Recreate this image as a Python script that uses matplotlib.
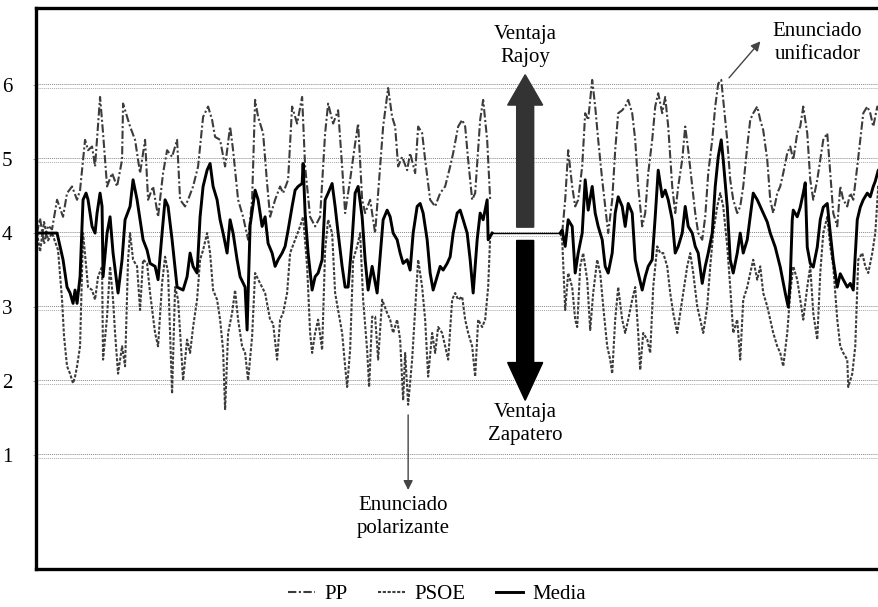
#Debate - valoracion continua PP / PSOE
import numpy as np
import matplotlib.pyplot as plt
from matplotlib.patches import FancyArrow

nan = np.nan

#Time (seconds from the start of the clip) and ratings
t_pp = [1, 4, 8, 12, 16, 21, 27, 31, 36, 41, 44, 49, 52, 56, 59, 64, 67, 71, 76, 81,
        86, 87, 91, 94, 99, 104, 109, 112, 117, 122, 127, 131, 136, 141, 144, 149, 152, 157, 162, 167,
        172, 176, 179, 184, 189, 194, 197, 202, 207, 212, 216, 219, 222, 227, 231, 234, 239, 244, 247, 252,
        256, 261, 266, 269, 274, 279, 284, 289, 292, 297, 302, 306, 309, 314, 319, 322, 326, 329, 334, 339,
        344, 347, 352, 356, 359, 362, 366, 371, 374, 379, 382, 386, 389, 394, 399, 404, 409, 414, 417, 422,
        426, 429, 432, 436, 439, 444, 447, 451, 454, 490,
        526, 529, 532, 536, 539, 542, 546, 549, 552, 556, 559, 562, 566, 569, 572, 576, 579, 582, 586, 589,
        592, 596, 599, 602, 606, 609, 612, 616, 619, 622, 626, 629, 632, 636, 639, 642, 646, 649, 652, 656,
        659, 662, 666, 669, 672, 676, 679, 682, 685, 687, 691, 694, 697, 701, 704, 707, 711, 714, 717, 721,
        724, 727, 731, 734, 737, 741, 744, 747, 751, 754, 757, 761, 764, 767, 771, 774, 777, 781, 784, 787,
        791, 794, 797, 801, 804, 807, 811, 814, 817, 821, 824, 827, 831, 834, 837, 841, 844]
pp = [4.00, 4.20, 3.85, 4.10, 4.05, 4.45, 4.22, 4.54, 4.63, 4.45, 4.58, 5.26, 5.12, 5.17, 4.90, 5.84, 5.35, 4.63, 4.81, 4.63,
      4.99, 5.75, 5.57, 5.44, 5.26, 4.81, 5.26, 4.45, 4.63, 4.22, 4.81, 5.12, 5.03, 5.26, 4.45, 4.36, 4.45, 4.63, 4.90, 5.57,
      5.71, 5.53, 5.30, 5.26, 4.90, 5.44, 5.12, 4.45, 4.22, 3.91, 4.45, 5.80, 5.57, 5.35, 4.67, 4.22, 4.45, 4.63, 4.54, 4.72,
      5.71, 5.48, 5.84, 4.90, 4.22, 4.09, 4.22, 5.35, 5.75, 5.48, 5.66, 4.90, 4.27, 4.72, 5.21, 5.48, 4.45, 4.27, 4.45, 4.00,
      4.90, 5.44, 5.96, 5.57, 5.44, 4.90, 5.03, 4.85, 5.08, 4.81, 5.44, 5.35, 4.99, 4.45, 4.36, 4.54, 4.63, 4.90, 5.08, 5.44,
      5.53, 5.44, 4.99, 4.45, 4.54, 5.53, 5.80, 5.26, 4.45, nan,
      4.00, 4.45, 5.12, 4.63, 4.36, 4.45, 4.90, 5.62, 5.53, 6.07, 5.71, 5.26, 4.72, 4.36, 4.00, 4.45, 5.12, 5.62, 5.66, 5.71,
      5.80, 5.62, 5.26, 4.63, 4.09, 4.27, 4.81, 5.26, 5.71, 5.89, 5.62, 5.84, 5.44, 4.63, 4.27, 4.63, 4.99, 5.44, 5.12, 4.63,
      4.27, 4.00, 3.91, 4.22, 4.81, 5.26, 5.71, 6.02, 6.07, 5.80, 5.26, 4.72, 4.45, 4.27, 4.36, 4.63, 5.17, 5.53, 5.62, 5.71,
      5.53, 5.39, 4.99, 4.45, 4.27, 4.54, 4.63, 4.81, 5.08, 5.17, 4.99, 5.35, 5.44, 5.71, 5.35, 4.72, 4.45, 4.72, 4.99, 5.26,
      5.35, 4.81, 4.27, 4.09, 4.63, 4.45, 4.36, 4.54, 4.45, 4.90, 5.26, 5.62, 5.71, 5.62, 5.44, 5.71, 5.62]

t_psoe = [1, 4, 8, 12, 16, 22, 26, 28, 31, 34, 37, 39, 41, 44, 47, 52, 56, 59, 62, 66,
          67, 71, 74, 77, 79, 82, 86, 89, 92, 94, 97, 101, 104, 107, 111, 114, 119, 122, 126, 129,
          132, 136, 139, 142, 147, 151, 154, 157, 161, 164, 167, 171, 174, 177, 181, 184, 187, 189, 192, 196,
          199, 202, 206, 209, 212, 216, 219, 224, 229, 234, 237, 241, 244, 247, 251, 254, 259, 264, 267, 271,
          274, 276, 279, 282, 286, 289, 292, 296, 299, 302, 306, 309, 311, 314, 317, 321, 324, 327, 331, 333,
          336, 339, 342, 346, 351, 354, 357, 361, 364, 367, 369, 372, 376, 379, 382, 386, 389, 392, 396, 399,
          402, 406, 409, 412, 416, 419, 422, 426, 429, 432, 436, 439, 442, 446, 449, 452, 454, 490,
          524, 526, 529, 532, 536, 539, 541, 544, 547, 551, 554, 557, 561, 564, 567, 571, 574, 576, 579, 582,
          586, 589, 592, 596, 599, 602, 604, 607, 611, 614, 617, 621, 624, 627, 631, 634, 637, 641, 644, 647,
          651, 654, 657, 661, 664, 667, 671, 674, 677, 681, 684, 687, 691, 694, 697, 701, 704, 707, 711, 714,
          717, 721, 724, 727, 731, 734, 737, 741, 744, 747, 751, 754, 757, 761, 764, 767, 771, 774, 777, 781,
          784, 787, 791, 794, 797, 801, 804, 807, 811, 812, 816, 819, 822, 826, 829, 832, 836, 839, 842, 845]
psoe = [4.00, 3.75, 4.15, 3.90, 4.00, 3.77, 3.10, 2.60, 2.20, 2.10, 1.97, 2.06, 2.20, 2.47, 4.00, 3.27, 3.23, 3.10, 3.41, 3.55,
        2.29, 2.87, 3.55, 3.10, 2.65, 2.10, 2.47, 2.20, 3.64, 4.00, 3.64, 3.55, 2.96, 3.64, 3.59, 3.19, 2.65, 2.47, 3.32, 3.68,
        3.46, 1.83, 3.27, 3.10, 2.01, 2.56, 2.38, 2.73, 3.10, 3.64, 3.77, 4.00, 3.73, 3.23, 3.10, 2.83, 2.42, 1.61, 2.65, 2.92,
        3.23, 2.83, 2.47, 2.38, 2.01, 2.60, 3.46, 3.32, 3.19, 2.83, 2.78, 2.29, 2.83, 2.92, 3.19, 3.73, 3.91, 4.09, 4.22, 3.55,
        2.65, 2.38, 2.65, 2.83, 2.42, 3.77, 4.18, 4.00, 3.19, 2.96, 2.65, 2.20, 1.92, 2.42, 3.64, 3.82, 4.00, 3.10, 2.42, 1.92,
        2.87, 2.87, 2.29, 3.10, 2.92, 2.83, 2.65, 2.83, 2.56, 1.74, 2.38, 1.68, 2.29, 2.96, 3.64, 3.27, 2.83, 2.06, 2.65, 2.38,
        2.73, 2.65, 2.47, 2.29, 3.10, 3.19, 3.10, 3.14, 2.83, 2.65, 2.47, 2.06, 2.83, 2.73, 2.83, 3.27, 3.95, nan,
        4.00, 3.91, 2.96, 3.46, 3.27, 2.83, 2.73, 3.55, 3.73, 3.37, 2.69, 3.19, 3.64, 3.46, 3.01, 2.47, 2.29, 2.10, 2.83, 3.27,
        2.83, 2.65, 2.83, 3.10, 3.27, 2.65, 2.15, 2.65, 2.56, 2.38, 3.27, 3.82, 3.73, 3.73, 3.55, 3.19, 2.92, 2.65, 2.92, 3.19,
        3.55, 3.73, 3.46, 3.01, 2.83, 2.65, 3.01, 3.55, 4.00, 4.36, 4.54, 4.36, 3.82, 3.27, 2.65, 2.83, 2.29, 3.10, 3.27, 3.46,
        3.64, 3.37, 3.55, 3.19, 3.01, 2.83, 2.65, 2.47, 2.38, 2.20, 2.65, 3.19, 3.55, 3.37, 3.10, 2.83, 3.27, 3.55, 2.92, 2.56,
        3.46, 4.00, 4.22, 3.82, 3.55, 2.83, 2.47, 2.38, 2.29, 1.92, 2.10, 2.47, 3.64, 3.73, 3.55, 3.46, 3.73, 4.00, 4.63, 4.40]

t_media = [1, 10, 21, 27, 31, 34, 37, 39, 41, 44, 47, 50, 52, 56, 59, 61, 64, 66, 67, 71,
           74, 77, 82, 86, 89, 94, 97, 101, 104, 107, 111, 114, 119, 122, 126, 129, 132, 136, 141, 147,
           151, 154, 157, 161, 164, 167, 171, 174, 177, 181, 184, 187, 191, 194, 197, 201, 204, 209, 211, 214,
           219, 222, 226, 229, 232, 236, 239, 242, 246, 249, 252, 256, 259, 262, 266, 267, 269, 272, 276, 279,
           282, 286, 289, 292, 296, 299, 302, 306, 309, 312, 316, 319, 322, 326, 329, 332, 336, 341, 344, 347,
           351, 354, 357, 361, 364, 367, 371, 374, 377, 381, 384, 387, 391, 394, 397, 401, 404, 407, 411, 414,
           417, 421, 424, 427, 431, 434, 437, 441, 444, 447, 451, 452, 456, 490,
           524, 526, 529, 532, 536, 539, 542, 546, 549, 552, 556, 559, 562, 566, 569, 572, 576, 579, 582, 586,
           589, 592, 596, 599, 602, 606, 609, 612, 616, 619, 622, 626, 629, 632, 636, 639, 642, 646, 649, 652,
           656, 659, 662, 666, 669, 672, 676, 679, 682, 685, 687, 691, 694, 697, 701, 704, 707, 711, 714, 717,
           721, 724, 727, 731, 734, 739, 744, 749, 752, 754, 756, 757, 761, 764, 767, 769, 771, 774, 777, 781, 784,
           787, 791, 794, 797, 801, 804, 807, 811, 814, 817, 821, 824, 827, 831, 834, 837, 839, 842, 846]
media = [4.00, 4.00, 4.00, 3.64, 3.27, 3.19, 3.05, 3.23, 3.05, 3.41, 4.45, 4.54, 4.45, 4.09, 4.00, 4.27, 4.54, 4.36, 3.41, 4.00,
         4.22, 3.73, 3.19, 3.64, 4.18, 4.36, 4.72, 4.45, 4.18, 3.91, 3.77, 3.59, 3.55, 3.37, 4.00, 4.45, 4.36, 3.91, 3.27, 3.23,
         3.41, 3.73, 3.55, 3.46, 4.22, 4.63, 4.85, 4.94, 4.63, 4.45, 4.18, 4.00, 3.73, 4.18, 4.00, 3.64, 3.41, 3.27, 2.69, 4.10,
         4.58, 4.45, 4.09, 4.22, 3.86, 3.73, 3.55, 3.64, 3.73, 3.82, 4.04, 4.36, 4.58, 4.63, 4.67, 4.94, 4.27, 3.73, 3.23, 3.41,
         3.46, 3.64, 4.45, 4.54, 4.67, 4.36, 4.00, 3.55, 3.27, 3.27, 3.91, 4.54, 4.63, 4.22, 3.64, 3.23, 3.55, 3.19, 3.68, 4.18,
         4.31, 4.22, 4.00, 3.91, 3.73, 3.59, 3.64, 3.50, 4.00, 4.36, 4.40, 4.27, 3.91, 3.46, 3.23, 3.41, 3.55, 3.50, 3.59, 3.68,
         4.00, 4.27, 4.31, 4.18, 4.00, 3.64, 3.19, 3.91, 4.27, 4.18, 4.45, 3.91, 4.00, nan,
         4.00, 4.04, 3.82, 4.18, 4.09, 3.46, 3.73, 4.00, 4.72, 4.31, 4.63, 4.27, 4.09, 3.91, 3.55, 3.46, 3.73, 4.27, 4.49, 4.36,
         4.09, 4.40, 4.27, 3.64, 3.46, 3.23, 3.41, 3.55, 3.64, 4.22, 4.85, 4.49, 4.58, 4.45, 4.18, 3.73, 3.82, 4.00, 4.36, 4.09,
         4.00, 3.82, 3.73, 3.32, 3.55, 3.73, 4.00, 4.63, 5.03, 5.26, 4.99, 4.36, 3.64, 3.46, 3.73, 4.00, 3.73, 3.91, 4.22, 4.54,
         4.45, 4.36, 4.27, 4.15, 4.00, 3.81, 3.54, 3.19, 3.00, 3.37, 4.18, 4.31, 4.22, 4.35, 4.54, 4.68, 3.81, 3.59, 3.54, 3.81, 4.18,
         4.35, 4.40, 4.00, 3.63, 3.27, 3.45, 3.37, 3.27, 3.32, 3.23, 4.18, 4.35, 4.45, 4.54, 4.49, 4.63, 4.70, 4.85, 4.90]

yticks = [1, 2, 3, 4, 5, 6]

plt.rcParams['font.family'] = ['Liberation Serif', 'DejaVu Serif']

fig = plt.figure(figsize=(8.79, 6.07), dpi=100)
ax = fig.add_axes([0.041, 0.0626, 0.965, 0.924])

#Horizontal reference lines (double dotted)
for v in yticks:
    ax.axhline(v + 0.02, color='#888888', lw=0.7, ls=(0, (1, 1)), zorder=1)
    ax.axhline(v - 0.035, color='#aaaaaa', lw=0.7, ls=(0, (1, 1)), zorder=1)

ax.plot(t_pp, pp, color='#3c3c3c', lw=1.5, ls=(0, (4, 1.2, 1, 1.2)), label='PP', zorder=2)
ax.plot(t_psoe, psoe, color='#3c3c3c', lw=1.5, ls=(0, (1.5, 0.8)), label='PSOE', zorder=2)
ax.plot(t_media, media, color='black', lw=2.1, label='Media', zorder=3)

#Thin connector across the gap in the middle
gap = t_media.index(490)
ax.plot([t_media[gap - 1], t_media[gap + 1]], [media[gap - 1], media[gap + 1]],
        color='black', lw=1.0, zorder=3)

#Advantage arrows
xc = 489
ax.add_patch(FancyArrow(xc, 4.08, 0, 2.06, width=17, head_width=35, head_length=0.41,
                        length_includes_head=True, color='#333333', zorder=5))
ax.add_patch(FancyArrow(xc, 3.9, 0, -2.16, width=17, head_width=35, head_length=0.51,
                        length_includes_head=True, color='black', zorder=5))

fs = 15
ls = 1.32
ax.text(xc, 6.53, 'Ventaja\nRajoy', ha='center', va='center', fontsize=fs, linespacing=ls)
ax.text(xc, 1.42, 'Ventaja\nZapatero', ha='center', va='center', fontsize=fs, linespacing=ls)
ax.text(781, 6.57, 'Enunciado\nunificador', ha='center', va='center', fontsize=fs, linespacing=ls)
ax.text(367, 0.16, 'Enunciado\npolarizante', ha='center', va='center', fontsize=fs, linespacing=ls)

ax.annotate('', xy=(726, 6.62), xytext=(691, 6.07),
            arrowprops=dict(arrowstyle='-|>', color='#444444', lw=1.0, mutation_scale=14))
ax.annotate('', xy=(372, 0.49), xytext=(372, 1.58),
            arrowprops=dict(arrowstyle='-|>', color='#444444', lw=1.0, mutation_scale=14))

ax.set_xlim(0, 848)
ax.set_ylim(-0.54, 7.04)
ax.set_xticks([])
ax.set_yticks(yticks)
ax.tick_params(axis='y', length=2, width=0.6, pad=15, labelsize=15, color='#888888')
for s in ax.spines.values():
    s.set_linewidth(2.4)
ax.spines['right'].set_visible(False)

fig.legend(loc='lower center', bbox_to_anchor=(0.497, -0.026), ncol=3, frameon=False,
           fontsize=15, handlelength=1.3, columnspacing=1.45, handletextpad=0.45)

plt.savefig('out.png', dpi=100)
